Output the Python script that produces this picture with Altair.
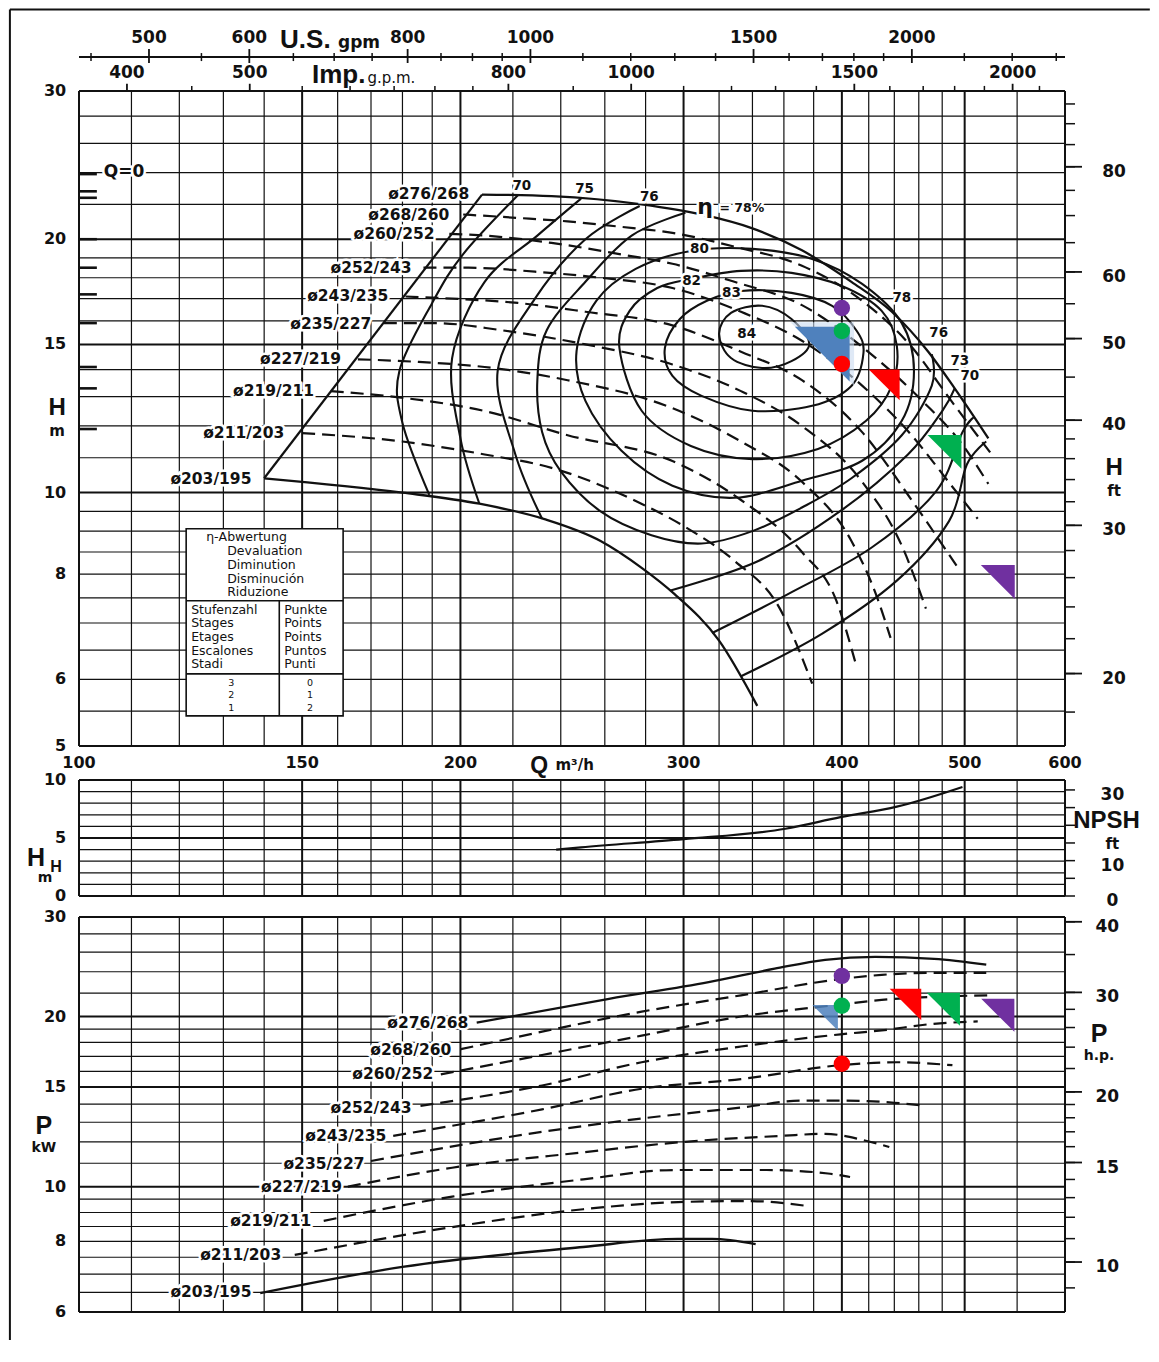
import altair as alt
import pandas as pd

FONT = "DejaVu Sans"
FONT_TITLE = "Liberation Sans"
INK = "#111111"
TRI = "M -1 -1 L 1 -1 L 1 1 Z"

# ================= values =================
DIAMETERS = ["276/268", "268/260", "260/252", "252/243", "243/235",
             "235/227", "227/219", "219/211", "211/203", "203/195"]
SOLID = ["276/268", "203/195"]

# H-Q curves (Q in m3/h, H in m)
HQ_Q = [
    [208, 236, 278, 310, 340, 372, 407, 438, 468, 491, 522],
    [201, 222, 243, 267, 294, 329, 372, 415, 454, 488, 524],
    [196, 209, 236, 267, 294, 329, 372, 415, 463, 498, 522],
    [187, 203, 229, 258, 294, 333, 372, 415, 454, 488, 512],
    [181, 197, 222, 251, 294, 333, 372, 415, 454, 494],
    [174, 191, 215, 251, 294, 333, 372, 415, 446, 466],
    [166, 185, 209, 243, 294, 333, 372, 407, 426, 437],
    [158, 181, 209, 243, 294, 333, 372, 396, 410],
    [150, 180, 209, 236, 274, 301, 329, 357, 379],
    [140, 180, 207, 233, 258, 278, 295, 320, 343],
]
HQ_H = [
    [22.6, 22.5, 22.0, 21.4, 20.6, 19.4, 17.8, 16.4, 14.7, 13.3, 11.6],
    [21.4, 21.2, 21.0, 20.7, 20.35, 19.6, 18.6, 16.9, 14.9, 12.85, 11.15],
    [20.3, 20.2, 19.8, 19.2, 18.7, 17.8, 16.7, 14.9, 12.85, 11.4, 10.24],
    [18.5, 18.5, 18.3, 18.0, 17.5, 16.4, 15.15, 13.4, 11.7, 10.2, 9.31],
    [17.1, 17.0, 16.8, 16.4, 15.8, 14.7, 13.6, 11.8, 9.8, 8.14],
    [15.9, 15.9, 15.6, 15.0, 14.2, 13.2, 12.0, 10.3, 8.65, 7.28],
    [14.4, 14.3, 14.1, 13.6, 12.6, 11.5, 10.3, 8.76, 7.54, 6.72],
    [13.2, 12.95, 12.5, 11.7, 10.9, 9.8, 8.5, 7.44, 6.28],
    [11.77, 11.5, 11.1, 10.7, 9.8, 9.1, 8.3, 7.3, 5.93],
    [10.4, 10.0, 9.7, 9.3, 8.76, 8.14, 7.58, 6.67, 5.58],
]
BOUND_Q = [140, 208]
BOUND_H = [10.4, 22.6]
SHUTOFF_H = [23.9, 22.8, 22.4, 20.0, 18.5, 17.2, 15.9, 14.1, 13.3, 11.9]

# efficiency contours (closed loops)
ETA_CLOSED = ["84", "83", "82", "80"]
ETA_CLOSED_Q = [
    [320, 327, 346, 365, 377, 365, 346, 327],
    [290, 298, 313, 333, 365, 393, 411, 416, 407, 379, 340, 310, 294],
    [267, 272, 286, 304, 333, 365, 400, 430, 442, 438, 418, 383, 340, 304, 278],
    [247, 256, 275, 304, 340, 379, 415, 446, 456, 446, 415, 372, 329, 294, 268, 251],
]
ETA_CLOSED_H = [
    [15.44, 16.35, 16.67, 16.08, 15.02, 14.33, 14.06, 14.45],
    [14.86, 16.08, 16.9, 17.36, 17.27, 16.67, 15.56, 14.65, 13.39, 12.68, 12.51, 13.03, 13.76],
    [14.86, 16.44, 17.5, 17.94, 18.34, 18.24, 17.6, 16.44, 14.94, 13.39, 12.17, 11.27, 10.96, 11.36, 12.51],
    [14.74, 16.9, 18.44, 19.37, 19.48, 18.95, 17.7, 15.9, 13.95, 12.17, 10.91, 10.33, 9.86, 10.19, 11.21, 12.85],
]
# efficiency contours cut by the largest / smallest impeller curves
ETA_OPEN = ["78", "76L", "76R", "75L", "75R", "70L", "70R"]
ETA_OPEN_Q = [
    [301, 273, 251, 234, 230, 232, 240, 258, 283, 310, 340, 372, 407, 446, 471, 471],
    [277, 251, 229, 214, 221, 232],
    [293, 344, 399, 451, 480, 491],
    [249, 230, 209, 197, 200, 207],
    [316, 363, 422, 475, 498, 509],
    [222, 201, 190, 179, 180, 189],
    [333, 386, 442, 486, 502, 520],
]
ETA_OPEN_H = [
    [21.5, 20.2, 17.8, 15.6, 13.6, 11.8, 10.6, 9.5, 8.9, 8.7, 9.0, 9.6, 10.4, 11.7, 13.4, 14.6],
    [21.9, 20.0, 17.0, 13.95, 11.1, 9.31],
    [7.65, 8.3, 9.51, 11.1, 12.5, 13.3],
    [22.35, 20.2, 17.8, 14.45, 11.6, 9.7],
    [6.81, 7.58, 8.6, 10.05, 11.8, 12.3],
    [22.55, 19.2, 16.8, 13.95, 12.1, 9.94],
    [6.05, 6.8, 7.86, 9.25, 10.8, 11.5],
]
ETA_LABELS = ["70", "75", "76", "80", "82", "83", "84", "78", "76", "73", "70"]
ETA_LABEL_Q = [223.6, 250.6, 281.9, 308.8, 304.4, 327.3, 336.5, 446, 477, 495.6, 504.7]
ETA_LABEL_H = [23.14, 22.95, 22.45, 19.48, 17.84, 17.27, 15.44, 17.03, 15.48, 14.33, 13.76]

DIAM_LABEL_HQ_Q = [203.2, 196, 190.8, 183, 175.4, 170.1, 161, 153.3, 145.2, 136.8]
DIAM_LABEL_HQ_H = [22.63, 21.37, 20.29, 18.49, 17.13, 15.86, 14.41, 13.2, 11.77, 10.38]

# NPSH curve
NPSH_Q = [238, 249, 300, 361, 399, 442, 498]
NPSH_M = [4.0, 4.2, 4.9, 5.8, 6.8, 7.7, 9.4]

# power curves (kW)
P_Q = [
    [206, 262, 314, 354, 388, 425, 473, 520],
    [200, 232, 278, 333, 399, 430, 471, 520],
    [193, 232, 278, 333, 399, 430, 480, 522],
    [186, 232, 278, 333, 399, 430, 471, 512],
    [177, 232, 278, 333, 399, 442, 489],
    [170, 232, 278, 333, 373, 399, 436, 465],
    [163, 197, 250, 300, 359, 388, 415, 436],
    [156, 197, 250, 295, 349, 390, 406],
    [148, 197, 250, 297, 338, 376],
    [139, 180, 250, 297, 316, 342],
]
P_KW = [
    [19.5, 21.5, 23.0, 24.3, 25.2, 25.5, 25.3, 24.7],
    [17.5, 18.8, 20.4, 21.8, 23.3, 23.7, 23.9, 23.9],
    [15.8, 17.1, 18.5, 20.0, 21.0, 21.4, 21.7, 21.8],
    [13.9, 15.1, 16.6, 17.7, 18.6, 18.9, 19.4, 19.6],
    [12.3, 13.7, 14.9, 15.5, 16.4, 16.6, 16.4],
    [11.1, 12.5, 13.2, 13.8, 14.2, 14.2, 14.1, 13.9],
    [10.0, 10.8, 11.5, 12.0, 12.3, 12.4, 12.1, 11.75],
    [8.7, 9.6, 10.3, 10.7, 10.7, 10.55, 10.4],
    [7.57, 8.48, 9.12, 9.39, 9.43, 9.24],
    [6.48, 7.21, 7.82, 8.08, 8.08, 7.91],
]
DIAM_LABEL_P_Q = [202.9, 196.7, 190.4, 183, 174.8, 168, 161.3, 152.5, 144.4, 136.8]
DIAM_LABEL_P_KW = [19.5, 17.45, 15.8, 13.8, 12.3, 10.96, 10.0, 8.69, 7.57, 6.51]

# coloured annotation markers
C_BLUE, C_RED, C_GREEN, C_PURPLE = "#4F81BD", "#FF0000", "#00B050", "#7030A0"
TRI_H_Q = [386, 432, 482, 531]
TRI_H_H = [14.61, 13.43, 11.18, 7.83]
TRI_H_SIZE = [3000, 950, 1150, 1150]
TRI_P_Q = [388, 449, 481, 531]
TRI_P_KW = [19.9, 21.0, 20.6, 20.1]
TRI_P_SIZE = [650, 1000, 1100, 1100]
TRI_COLORS = [C_BLUE, C_RED, C_GREEN, C_PURPLE]
DOT_Q = [400, 400, 400]
DOT_H = [16.57, 15.56, 14.22]
DOT_P_KW = [23.6, 20.9, 16.5]
DOT_COLORS = [C_PURPLE, C_GREEN, C_RED]

# grid / axis values
Q_MAJOR = [100, 150, 200, 300, 400, 500, 600]
Q_MINOR = [110, 120, 130, 140, 160, 170, 180, 190, 220, 240, 260, 280,
           320, 340, 360, 380, 420, 440, 460, 480, 550]
H_MAJOR = [5, 10, 15, 20, 30]
H_MINOR = [5.5, 6, 6.5, 7, 7.5, 8, 8.5, 9, 9.5, 11, 12, 13, 14, 16, 17, 18, 19, 22, 24, 26, 28]
P_MAJOR = [6, 10, 15, 20, 30]
P_MINOR = [6.5, 7, 7.5, 8, 8.5, 9, 9.5, 11, 12, 13, 14, 16, 17, 18, 19, 22, 24, 26, 28]
N_MAJOR = [0, 5, 10]
N_MINOR = [1, 2, 3, 4, 6, 7, 8, 9]
H_TICKLABELS = [5, 6, 8, 10, 15, 20, 30]
P_TICKLABELS = [6, 8, 10, 15, 20, 30]
N_TICKLABELS = [0, 5, 10]
Q_TICKLABELS = [100, 150, 200, 300, 400, 500, 600]

US_GPM_PER_M3H = 4.4029
IMP_GPM_PER_M3H = 3.6662
US_MAJOR = [500, 600, 800, 1000, 1500, 2000]
US_MINOR = [450, 550, 650, 700, 750, 850, 900, 950, 1100, 1200, 1300, 1400,
            1600, 1700, 1800, 1900, 2200, 2400, 2600]
IMP_MAJOR = [400, 500, 800, 1000, 1500, 2000]
IMP_MINOR = [450, 550, 600, 650, 700, 750, 900, 1100, 1200, 1300, 1400,
             1600, 1700, 1800, 1900, 2100]

FT_TO_M = 0.3048
HP_TO_KW = 0.7355
FT_TICKS = [18, 20, 22, 24, 26, 28, 30, 32, 34, 36, 38, 40, 45, 50, 55, 60,
            65, 70, 75, 80, 85, 90, 95]
FT_LABELS = [20, 30, 40, 50, 60, 80]
HP_TICKS = [9, 10, 11, 12, 13, 14, 15, 16, 17, 18, 19, 20, 22, 24, 26, 28, 30, 35, 40]
HP_LABELS = [10, 15, 20, 30, 40]
NFT_TICKS = [0, 5, 10, 15, 20, 25, 30]
NFT_LABELS = [0, 10, 30]

# positions of decorations, in data units of each panel
FRAME_Q = [88.2, 700.0]
FRAME_H = [37.5, 0.985]
LEFT_LABEL_Q = 97.7
TICK_Q = [600, 611.0, 618.8]
SHUT_Q = [100, 103.3]
US_LINE_H = 32.92
US_TICK_H = [32.56, 33.28, 32.39, 33.65]
US_LABEL_H = 34.67
IMP_TICK_H = [30, 30.42, 30.6]
IMP_LABEL_H = 31.51
Q_LABEL_H = 4.775

LEG_Q = [121.5, 143.9, 161.6]
LEG_H = [9.06, 7.44, 6.09, 5.43]
LEG_HEAD = ["η-Abwertung", "Devaluation", "Diminution", "Disminución", "Riduzione"]
LEG_HEAD_Q = [126, 130.9, 130.9, 130.9, 130.9]
LEG_HEAD_H = [8.86, 8.53, 8.21, 7.9, 7.62]
LEG_LEFT = ["Stufenzahl", "Stages", "Etages", "Escalones", "Stadi"]
LEG_RIGHT = ["Punkte", "Points", "Points", "Puntos", "Punti"]
LEG_ROW_H = [7.26, 7.0, 6.74, 6.49, 6.26]
LEG_STAGES = ["3", "2", "1"]
LEG_POINTS = ["0", "1", "2"]
LEG_NUM_H = [5.94, 5.75, 5.55]

# ================= scales =================
W = 986
xs = alt.Scale(type="log", domain=[100, 600], nice=False)
sH = alt.Scale(type="log", domain=[5, 30], range=[655, 0], nice=False)
sN = alt.Scale(type="linear", domain=[0, 10], nice=False, zero=False)
sP = alt.Scale(type="log", domain=[6, 30], nice=False)


def X(f):
    return alt.X(f"{f}:Q", scale=xs, axis=None)


def Y(f, s):
    return alt.Y(f"{f}:Q", scale=s, axis=None)


def vrules(qs, y0, y1, s, w):
    df = pd.DataFrame({"q": qs, "a": [y0] * len(qs), "b": [y1] * len(qs)})
    return alt.Chart(df).mark_rule(color=INK, strokeWidth=w).encode(
        x=X("q"), y=Y("a", s), y2="b:Q")


def hrules(vals, q0, q1, s, w):
    df = pd.DataFrame({"v": vals, "a": [q0] * len(vals), "b": [q1] * len(vals)})
    return alt.Chart(df).mark_rule(color=INK, strokeWidth=w).encode(
        x=X("a"), x2="b:Q", y=Y("v", s))


def texts(qs, vs, labels, s, size, align="center", weight="bold", dy=0,
          halo=False, baseline="middle", font=FONT):
    df = pd.DataFrame({"q": qs, "v": vs, "t": labels})
    enc = dict(x=X("q"), y=Y("v", s), text="t:N")
    kw = dict(font=font, fontSize=size, align=align, baseline=baseline,
              fontWeight=weight, dy=dy)
    out = []
    if halo:
        out.append(alt.Chart(df).mark_text(color="white", stroke="white",
                                           strokeWidth=5, **kw).encode(**enc))
    out.append(alt.Chart(df).mark_text(color=INK, **kw).encode(**enc))
    return out


def lines(names, qlist, vlist, s, w, dash=None, interp="monotone"):
    rows = []
    for name, qq, vv in zip(names, qlist, vlist):
        for i, (q, v) in enumerate(zip(qq, vv)):
            rows.append({"c": name, "i": i, "q": q, "v": v})
    df = pd.DataFrame(rows)
    kw = dict(color=INK, strokeWidth=w, interpolate=interp, strokeCap="butt")
    if dash:
        kw["strokeDash"] = dash
    return alt.Chart(df).mark_line(**kw).encode(
        x=X("q"), y=Y("v", s), detail="c:N", order="i:Q")


def markers(qs, vs, colors, sizes, s, shape, opacity=1.0):
    df = pd.DataFrame({"q": qs, "v": vs, "c": colors, "z": sizes})
    return alt.Chart(df).mark_point(shape=shape, filled=True, opacity=opacity,
                                    strokeWidth=0).encode(
        x=X("q"), y=Y("v", s), color=alt.Color("c:N", scale=None),
        size=alt.Size("z:Q", scale=None))


def grid(s, vmaj, vmin, lo, hi):
    return [
        vrules(Q_MINOR, lo, hi, s, 1.2),
        vrules(Q_MAJOR, lo, hi, s, 2.0),
        hrules(vmin, 100, 600, s, 1.2),
        hrules(vmaj, 100, 600, s, 2.0),
    ]


def split(names, qs, vs, keep):
    sel = [i for i, n in enumerate(names) if (n in SOLID) == keep]
    return [names[i] for i in sel], [qs[i] for i in sel], [vs[i] for i in sel]


# ================= H panel =================
Hl = []
Hl += grid(sH, H_MAJOR, H_MINOR, 5, 30)
# outer frame of the sheet
Hl.append(hrules([FRAME_H[0]], FRAME_Q[0], FRAME_Q[1], sH, 2))
Hl.append(vrules([FRAME_Q[0]], FRAME_H[0], FRAME_H[1], sH, 2))
# shut-off marks (Q = 0)
Hl.append(hrules(SHUTOFF_H, SHUT_Q[0], SHUT_Q[1], sH, 2.6))
Hl += texts([104.6], [24.05], ["Q=0"], sH, 17, align="left", halo=True)
# legend table
leg_df = pd.DataFrame({"a": [LEG_Q[0]], "b": [LEG_Q[2]], "c": [LEG_H[0]], "d": [LEG_H[3]]})
Hl.append(alt.Chart(leg_df).mark_rect(fill="white", stroke=INK, strokeWidth=1.6).encode(
    x=X("a"), x2="b:Q", y=Y("c", sH), y2="d:Q"))
Hl.append(hrules([LEG_H[1], LEG_H[2]], LEG_Q[0], LEG_Q[2], sH, 1.6))
Hl.append(vrules([LEG_Q[1]], LEG_H[1], LEG_H[3], sH, 1.6))
Hl += texts(LEG_HEAD_Q, LEG_HEAD_H, LEG_HEAD, sH, 12.5, align="left", weight="normal")
Hl += texts([122.6] * 5, LEG_ROW_H, LEG_LEFT, sH, 12.5, align="left", weight="normal")
Hl += texts([145.2] * 5, LEG_ROW_H, LEG_RIGHT, sH, 12.5, align="left", weight="normal")
Hl += texts([131.9] * 3, LEG_NUM_H, LEG_STAGES, sH, 9.5, weight="normal")
Hl += texts([152.2] * 3, LEG_NUM_H, LEG_POINTS, sH, 9.5, weight="normal")
# curves
Hl.append(lines(["b"], [BOUND_Q], [BOUND_H], sH, 2.2, interp="linear"))
n, q, v = split(DIAMETERS, HQ_Q, HQ_H, True)
Hl.append(lines(n, q, v, sH, 2.3))
n, q, v = split(DIAMETERS, HQ_Q, HQ_H, False)
Hl.append(lines(n, q, v, sH, 2.2, dash=[13, 7]))
Hl.append(lines(ETA_CLOSED, ETA_CLOSED_Q, ETA_CLOSED_H, sH, 2.1, interp="cardinal-closed"))
Hl.append(lines(ETA_OPEN, ETA_OPEN_Q, ETA_OPEN_H, sH, 2.1, interp="cardinal"))
# labels on the curves
Hl += texts(DIAM_LABEL_HQ_Q, DIAM_LABEL_HQ_H, ["ø" + d for d in DIAMETERS], sH, 15.5,
            align="right", halo=True)
Hl += texts(ETA_LABEL_Q, ETA_LABEL_H, ETA_LABELS, sH, 13.5, halo=True)
Hl += texts([311.9], [21.85], ["η"], sH, 22, halo=True)
Hl += texts([320.2], [21.78], ["= 78%"], sH, 12.5, align="left", halo=True)
# left / bottom axis labels
Hl += texts([LEFT_LABEL_Q] * len(H_TICKLABELS), H_TICKLABELS,
            [str(t) for t in H_TICKLABELS], sH, 16, align="right")
Hl += texts(Q_TICKLABELS, [Q_LABEL_H] * len(Q_TICKLABELS),
            [str(t) for t in Q_TICKLABELS], sH, 16)
Hl += texts([230.8], [4.74], ["Q"], sH, 23, font=FONT_TITLE)
Hl += texts([237.7], [4.75], ["m³/h"], sH, 15, align="left")
Hl += texts([96.1], [12.61], ["H"], sH, 24, font=FONT_TITLE)
Hl += texts([96.1], [11.84], ["m"], sH, 15)
# top axes: U.S. gpm and Imp. gpm
Hl.append(hrules([US_LINE_H], 100, 600, sH, 2))
Hl.append(vrules([g / US_GPM_PER_M3H for g in US_MINOR], US_TICK_H[0], US_TICK_H[1], sH, 1.5))
Hl.append(vrules([g / US_GPM_PER_M3H for g in US_MAJOR], US_TICK_H[2], US_TICK_H[3], sH, 1.8))
Hl += texts([g / US_GPM_PER_M3H for g in US_MAJOR], [US_LABEL_H] * len(US_MAJOR),
            [str(g) for g in US_MAJOR], sH, 17)
Hl.append(vrules([g / IMP_GPM_PER_M3H for g in IMP_MINOR], IMP_TICK_H[0], IMP_TICK_H[1], sH, 1.5))
Hl.append(vrules([g / IMP_GPM_PER_M3H for g in IMP_MAJOR], IMP_TICK_H[0], IMP_TICK_H[2], sH, 1.8))
Hl += texts([g / IMP_GPM_PER_M3H for g in IMP_MAJOR], [IMP_LABEL_H] * len(IMP_MAJOR),
            [str(g) for g in IMP_MAJOR], sH, 17)
Hl += texts([144.1], [33.75], ["U.S."], sH, 26, align="left", baseline="alphabetic",
            font=FONT_TITLE)
Hl += texts([160.1], [33.75], ["gpm"], sH, 17, align="left", baseline="alphabetic")
Hl += texts([152.7], [30.66], ["Imp."], sH, 26, align="left", baseline="alphabetic",
            font=FONT_TITLE)
Hl += texts([168.9], [30.66], ["g.p.m."], sH, 15, align="left", weight="normal",
            baseline="alphabetic")
# right axis: feet
Hl.append(hrules([f * FT_TO_M for f in FT_TICKS], TICK_Q[0], TICK_Q[1], sH, 1.5))
Hl.append(hrules([f * FT_TO_M for f in FT_LABELS], TICK_Q[0], TICK_Q[2], sH, 1.8))
Hl += texts([656] * len(FT_LABELS), [f * FT_TO_M for f in FT_LABELS],
            [str(f) for f in FT_LABELS], sH, 17, dy=5)
Hl += texts([656.1], [10.7], ["H"], sH, 24, font=FONT_TITLE)
Hl += texts([656.1], [10.05], ["ft"], sH, 15)
# markers
Hl.append(markers(TRI_H_Q[:1], TRI_H_H[:1], ["#C9DAF0"], [TRI_H_SIZE[0] * 1.35], sH, TRI, 0.6))
Hl.append(markers(TRI_H_Q, TRI_H_H, TRI_COLORS, TRI_H_SIZE, sH, TRI))
Hl.append(markers(DOT_Q, DOT_H, DOT_COLORS, [270] * 3, sH, "circle"))

H_chart = alt.layer(*Hl).properties(width=W, height=668)

# ================= NPSH panel =================
Nl = []
Nl += grid(sN, N_MAJOR, N_MINOR, 0, 10)
Nl.append(lines(["npsh"], [NPSH_Q], [NPSH_M], sN, 2.2))
Nl += texts([LEFT_LABEL_Q] * 3, N_TICKLABELS, [str(t) for t in N_TICKLABELS], sN, 16,
            align="right")
Nl += texts([92.5], [3.28], ["H"], sN, 25, font=FONT_TITLE)
Nl += texts([95.9], [2.5], ["H"], sN, 16, font=FONT_TITLE)
Nl += texts([94.0], [1.55], ["m"], sN, 14)
Nl.append(hrules([f * FT_TO_M for f in NFT_TICKS], TICK_Q[0], TICK_Q[1], sN, 1.5))
Nl += texts([654] * 3, [f * FT_TO_M for f in NFT_LABELS], [str(f) for f in NFT_LABELS],
            sN, 17, dy=5)
Nl += texts([609], [6.47], ["NPSH"], sN, 24, align="left", font=FONT_TITLE)
Nl += texts([654], [4.48], ["ft"], sN, 15)
N_chart = alt.layer(*Nl).properties(width=W, height=116)

# ================= P panel =================
Pl = []
Pl += grid(sP, P_MAJOR, P_MINOR, 6, 30)
n, q, v = split(DIAMETERS, P_Q, P_KW, True)
Pl.append(lines(n, q, v, sP, 2.3))
n, q, v = split(DIAMETERS, P_Q, P_KW, False)
Pl.append(lines(n, q, v, sP, 2.2, dash=[13, 7]))
Pl += texts(DIAM_LABEL_P_Q, DIAM_LABEL_P_KW, ["ø" + d for d in DIAMETERS], sP, 15.5,
            align="right", halo=True)
Pl += texts([LEFT_LABEL_Q] * len(P_TICKLABELS), P_TICKLABELS,
            [str(t) for t in P_TICKLABELS], sP, 16, align="right")
Pl += texts([93.8], [12.8], ["P"], sP, 25, font=FONT_TITLE)
Pl += texts([93.8], [11.7], ["kW"], sP, 14)
Pl.append(hrules([h * HP_TO_KW for h in HP_TICKS], TICK_Q[0], TICK_Q[1], sP, 1.5))
Pl.append(hrules([h * HP_TO_KW for h in HP_LABELS], TICK_Q[0], TICK_Q[2], sP, 1.8))
Pl += texts([648] * len(HP_LABELS), [h * HP_TO_KW for h in HP_LABELS],
            [str(h) for h in HP_LABELS], sP, 17, dy=5)
Pl += texts([638.3], [18.6], ["P"], sP, 25, font=FONT_TITLE)
Pl += texts([638.3], [17.0], ["h.p."], sP, 14)
Pl.append(markers(TRI_P_Q[:1], TRI_P_KW[:1], [C_BLUE], TRI_P_SIZE[:1], sP, TRI, 0.85))
Pl.append(markers(TRI_P_Q[1:], TRI_P_KW[1:], TRI_COLORS[1:], TRI_P_SIZE[1:], sP, TRI))
Pl.append(markers(DOT_Q, DOT_P_KW, DOT_COLORS, [270] * 3, sP, "circle"))
P_chart = alt.layer(*Pl).properties(width=W, height=395)

chart = alt.vconcat(H_chart, N_chart, P_chart, spacing=21, bounds="flush").properties(
    padding=0, background="white"
).configure_view(strokeWidth=0)

chart.save("out.html", embed_options={"renderer": "svg", "actions": False})
